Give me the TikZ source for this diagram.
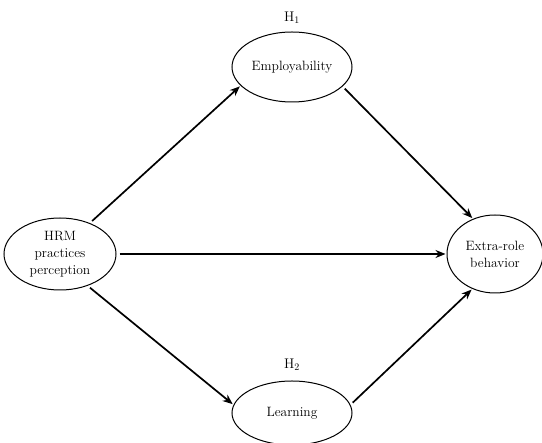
\documentclass[tikz,border=0pt]{standalone}
\usetikzlibrary{shapes.geometric,arrows.meta}
\begin{document}
\begin{tikzpicture}[x=1pt,y=-1pt,
    construct/.style={draw,ellipse,line width=1pt,inner sep=0pt,font=\fontsize{13.5}{17}\selectfont,align=center},
    hyp/.style={font=\fontsize{14}{16}\selectfont},
    path/.style={-{Stealth[length=10pt,width=8pt]},line width=1.7pt,shorten <=3pt,shorten >=1pt}]
      \useasboundingbox (0,0) rectangle (542,443);
      \draw
        (60,254) node[construct,minimum width=112,minimum height=72] (hrm){HRM\\practices\\perception}
        (292,67) node[construct,minimum width=120,minimum height=70] (emp){Employability}
        (292,413) node[construct,minimum width=120,minimum height=64] (learn){Learning}
        (495,254) node[construct,minimum width=96,minimum height=78] (erb){Extra-role\\behavior}
        (292,18) node[hyp] (h1){H$_1$}
        (292,365) node[hyp] (h2){H$_2$};
      \begin{scope}[path]
        \draw (hrm.46) to (emp.200);
        \draw (hrm) to (erb);
        \draw (hrm.-49) to (learn.172);
        \draw (emp.-21) to (erb.122);
        \draw (learn.8) to (erb.237);
      \end{scope}
    \end{tikzpicture}
\end{document}
